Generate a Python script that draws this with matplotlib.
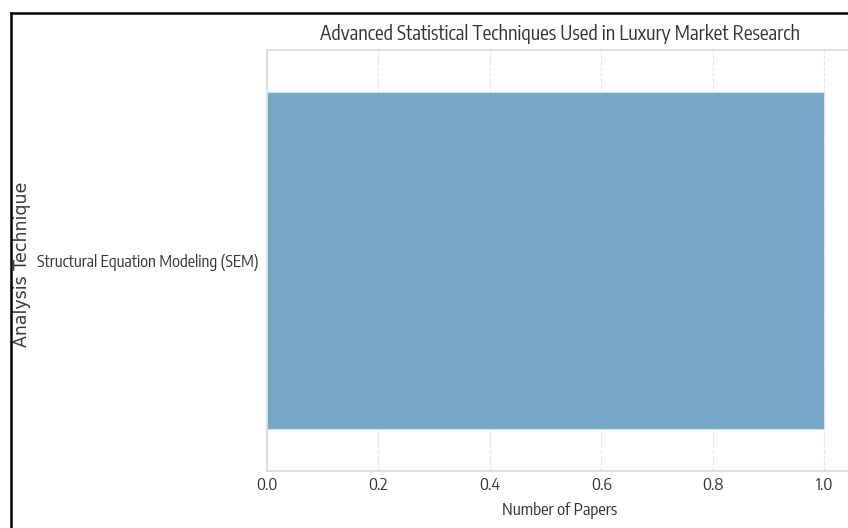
import matplotlib
matplotlib.use('Agg')
import matplotlib.pyplot as plt
from matplotlib.lines import Line2D

techniques = ['Structural Equation Modeling (SEM)']
paper_counts = [1]
x_ticks = [0.0, 0.2, 0.4, 0.6, 0.8, 1.0]

narrow = ['Encode Sans Condensed', 'DejaVu Sans']
text_color = '#333333'

fig = plt.figure(figsize=(8.48, 5.28), dpi=100)
fig.patch.set_facecolor('white')
ax = fig.add_axes([267 / 848, 57 / 528, 585 / 848, 421 / 528])

ax.barh(techniques, paper_counts, height=0.8, color='#78a8c8', edgecolor='#d6e4ef', linewidth=0.8, zorder=2)
ax.set_xlim(0, 1.05)
ax.set_ylim(-0.5, 0.5)

ax.grid(axis='x', linestyle='--', color='#e6e6e6', linewidth=0.8, zorder=0)
ax.set_axisbelow(True)
for sp in ax.spines.values():
    sp.set_color('#d9d9d9')
    sp.set_linewidth(1.2)

ax.set_xticks(x_ticks)
ax.set_xticklabels([f'{t:.1f}' for t in x_ticks])
ax.tick_params(axis='x', length=0, pad=4, labelsize=12, labelcolor=text_color)
ax.tick_params(axis='y', length=0, pad=6, labelsize=11.7, labelcolor=text_color)
for lab in ax.get_xticklabels() + ax.get_yticklabels():
    lab.set_family(narrow)

ax.set_title('Advanced Statistical Techniques Used in Luxury Market Research',
             family=narrow, fontsize=14, color=text_color, pad=7)
ax.set_xlabel('Number of Papers', family=narrow, fontsize=12, color=text_color, labelpad=6)
ax.set_ylabel('Analysis Technique', family='DejaVu Sans', fontsize=12.5, color='#3a3a3a')
ax.yaxis.set_label_coords(31 / 848, 0.5, transform=fig.transFigure)

# screenshot frame
fig.add_artist(Line2D([10.5 / 848, 10.5 / 848], [0, 1 - 12.5 / 528], color='black', linewidth=1.8))
fig.add_artist(Line2D([10.5 / 848, 1], [1 - 12.5 / 528, 1 - 12.5 / 528], color='black', linewidth=1.8))

fig.savefig('out.png', dpi=100)
